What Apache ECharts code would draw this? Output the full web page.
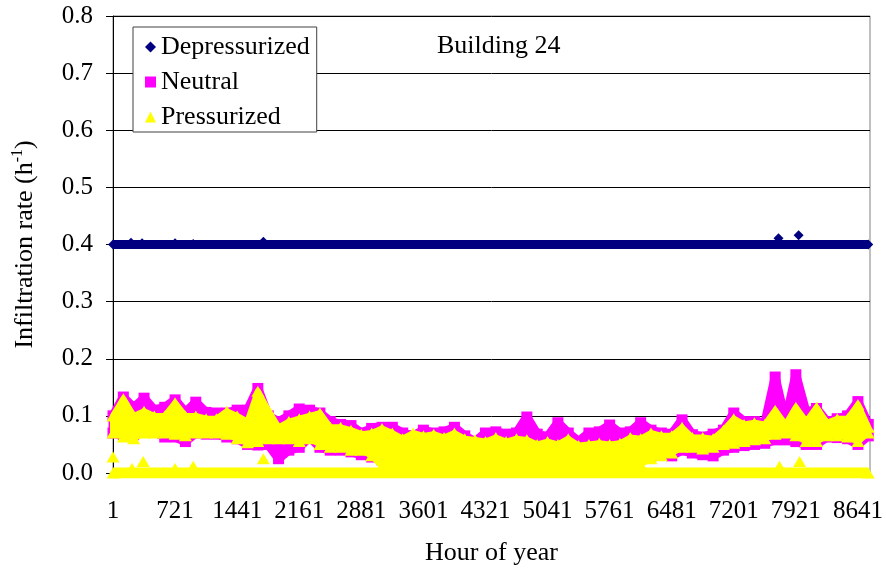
<!DOCTYPE html>
<html>
<head>
<meta charset="utf-8">
<script src="https://cdn.jsdelivr.net/npm/echarts@6/dist/echarts.min.js"></script>
<style>
html, body { margin: 0; padding: 0; background: #fff; }
#chart { width: 886px; height: 573px; }
</style>
</head>
<body>
<div id="chart"></div>
<script>
// hour of year, one sample every 120 h (envelopes)
var hours = [];
for (var k = 0; k <= 73; k++) hours.push(k * 120);

var neutralHi = [0.10, 0.133, 0.114, 0.131, 0.11, 0.115, 0.128, 0.106, 0.124, 0.106, 0.105, 0.105, 0.11, 0.11, 0.148, 0.10, 0.09, 0.10, 0.112,
    0.11, 0.105, 0.09, 0.085, 0.083, 0.07, 0.078, 0.08, 0.08, 0.07, 0.065, 0.075, 0.07, 0.072, 0.08, 0.065, 0.055, 0.07,
    0.072, 0.068, 0.07, 0.098, 0.068, 0.063, 0.088, 0.07, 0.055, 0.07, 0.072, 0.084, 0.07, 0.072, 0.088, 0.075, 0.07, 0.068, 0.093,
    0.067, 0.063, 0.068, 0.075, 0.105, 0.09, 0.09, 0.087, 0.168, 0.09, 0.172, 0.105, 0.113, 0.09, 0.095, 0.1, 0.125, 0.085];
var neutralLo = [0.07, 0.067, 0.067, 0.075, 0.072, 0.063, 0.063, 0.055, 0.07, 0.068, 0.068, 0.063, 0.06, 0.05, 0.049, 0.05, 0.025, 0.04, 0.045,
    0.063, 0.045, 0.04, 0.04, 0.037, 0.032, 0.028, 0.023, 0.035, 0.03, 0.03, 0.025, 0.019, 0.02, 0.019, 0.019, 0.019, 0.02,
    0.02, 0.022, 0.02, 0.018, 0.018, 0.02, 0.018, 0.02, 0.018, 0.02, 0.02, 0.018, 0.018, 0.022, 0.025, 0.03, 0.032, 0.03, 0.04,
    0.035, 0.032, 0.03, 0.04, 0.045, 0.048, 0.05, 0.052, 0.058, 0.058, 0.055, 0.05, 0.05, 0.063, 0.062, 0.06, 0.05, 0.065];
var pressHi = [0.10, 0.13, 0.10, 0.108, 0.10, 0.10, 0.123, 0.10, 0.10, 0.095, 0.095, 0.108, 0.10, 0.09, 0.143, 0.11, 0.08, 0.09, 0.095,
    0.10, 0.105, 0.08, 0.08, 0.075, 0.068, 0.07, 0.078, 0.07, 0.06, 0.07, 0.065, 0.068, 0.062, 0.07, 0.06, 0.058, 0.055,
    0.062, 0.055, 0.06, 0.058, 0.05, 0.055, 0.05, 0.06, 0.048, 0.05, 0.052, 0.05, 0.052, 0.062, 0.06, 0.07, 0.065, 0.065, 0.08,
    0.062, 0.062, 0.06, 0.075, 0.095, 0.085, 0.088, 0.085, 0.11, 0.085, 0.115, 0.09, 0.115, 0.088, 0.095, 0.095, 0.12, 0.08];
var pressLo = [0.07, 0.063, 0.06, 0.07, 0.07, 0.07, 0.068, 0.065, 0.07, 0.07, 0.07, 0.068, 0.06, 0.053, 0.055, 0.06, 0.06, 0.06, 0.055,
    0.06, 0.05, 0.045, 0.045, 0.04, 0.04, 0.03, 0.012, 0.01, 0.01, 0.01, 0.01, 0.01, 0.01, 0.01, 0.01, 0.01, 0.01,
    0.01, 0.01, 0.01, 0.01, 0.01, 0.01, 0.01, 0.01, 0.01, 0.01, 0.01, 0.01, 0.01, 0.01, 0.015, 0.025, 0.03, 0.035, 0.045,
    0.045, 0.042, 0.045, 0.05, 0.052, 0.055, 0.058, 0.06, 0.068, 0.07, 0.065, 0.055, 0.055, 0.065, 0.065, 0.063, 0.055, 0.07];

// flat levels across the year
var depLevelHours = [1, 8760];
var depLevel = [0.4, 0.4];
var pressZeroHours = [1, 8760];
var pressZero = [0, 0];

// isolated points off the flat levels
var depSpikeHours = [209, 337, 720, 930, 1744, 7719, 7952];
var depSpikes = [0.403, 0.402, 0.402, 0.401, 0.405, 0.411, 0.416];
var pressSpikeHours = [0, 220, 350, 720, 930, 1744, 7730, 7963];
var pressSpikes = [0.028, 0.008, 0.02, 0.008, 0.012, 0.025, 0.012, 0.02];

var xLabelStep = 720;
var FONT = '"Liberation Serif", "Times New Roman", serif';
var NAVY = '#000080', MAGENTA = '#ff00ff', YELLOW = '#ffff00';

function pairs(xs, ys) {
    return xs.map(function (x, i) { return [x, ys[i]]; });
}

function band(xs, lo, hi, color, edge) {
    return function (params, api) {
        if (params.dataIndex > 0) return null;
        var pts = [];
        for (var i = 0; i < xs.length; i++) pts.push(api.coord([xs[i], hi[i]]));
        for (var j = xs.length - 1; j >= 0; j--) pts.push(api.coord([xs[j], lo[j]]));
        return {
            type: 'polygon',
            shape: { points: pts },
            style: { fill: color, stroke: color, lineWidth: edge, lineJoin: 'round' }
        };
    };
}

var myChart = echarts.init(document.getElementById('chart'));

var option = {
    animation: false,
    backgroundColor: '#fff',
    grid: {
        left: 113, right: 16, top: 16, bottom: 100,
        show: true, borderColor: '#808080', borderWidth: 1
    },
    legend: {
        orient: 'vertical',
        left: 133, top: 27,
        padding: [7, 7, 2, 12],
        itemGap: 9,
        itemWidth: 11, itemHeight: 11,
        backgroundColor: '#fff',
        borderColor: '#404040', borderWidth: 1,
        selectedMode: false,
        textStyle: { fontFamily: FONT, fontSize: 26, lineHeight: 26, color: '#000' },
        data: [
            { name: 'Depressurized', icon: 'diamond' },
            { name: 'Neutral', icon: 'rect' },
            { name: 'Pressurized', icon: 'triangle' }
        ]
    },
    graphic: [{
        type: 'text', left: 437, top: 33,
        style: { text: 'Building 24', font: '26px ' + FONT, fill: '#000' }
    }],
    xAxis: {
        type: 'value',
        min: 0, max: 8780,
        interval: xLabelStep,
        offset: 7,
        name: 'Hour of year',
        nameLocation: 'middle',
        nameGap: 60,
        nameTextStyle: { fontFamily: FONT, fontSize: 26, color: '#000' },
        axisLine: { lineStyle: { color: '#000', width: 1 } },
        axisTick: { show: true, length: 3, lineStyle: { color: '#000' } },
        minorTick: { show: true, splitNumber: 24, length: 3, lineStyle: { color: '#000' } },
        splitLine: { show: false },
        axisLabel: {
            margin: 19,
            fontFamily: FONT, fontSize: 25, color: '#000',
            showMaxLabel: false,
            formatter: function (v) { return v % xLabelStep === 0 ? String(v + 1) : ''; }
        }
    },
    yAxis: {
        type: 'value',
        min: 0, max: 0.8, interval: 0.1,
        name: '{a|Infiltration rate (h}{s|-1}{a|)}',
        nameLocation: 'middle',
        nameGap: 73,
        nameTextStyle: {
            rich: {
                a: { fontFamily: FONT, fontSize: 26, color: '#000', lineHeight: 30 },
                s: { fontFamily: FONT, fontSize: 16, color: '#000', verticalAlign: 'top', lineHeight: 30 }
            }
        },
        axisLine: { show: true, lineStyle: { color: '#000', width: 1 } },
        axisTick: { show: true, inside: false, length: 7, lineStyle: { color: '#000' } },
        splitLine: { show: true, lineStyle: { color: '#000', width: 1 } },
        axisLabel: {
            margin: 20,
            fontFamily: FONT, fontSize: 25, color: '#000',
            formatter: function (v) { return v.toFixed(1); }
        }
    },
    series: [
        {
            name: 'dep level', type: 'line', z: 3,
            data: pairs(depLevelHours, depLevel),
            symbol: 'diamond', symbolSize: 10, showSymbol: true,
            itemStyle: { color: NAVY, opacity: 1 },
            lineStyle: { color: NAVY, width: 9 }
        },
        {
            name: 'Depressurized', type: 'scatter', z: 4,
            data: pairs(depSpikeHours, depSpikes),
            symbol: 'diamond', symbolSize: 10,
            itemStyle: { color: NAVY, opacity: 1 }
        },
        {
            name: 'neutral band', type: 'custom', z: 5,
            data: pairs(hours, neutralHi),
            renderItem: band(hours, neutralLo, neutralHi, MAGENTA, 9)
        },
        {
            name: 'Neutral', type: 'scatter', z: 6,
            data: pairs(hours, neutralHi).concat(pairs(hours, neutralLo)),
            symbol: 'rect', symbolSize: 11,
            itemStyle: { color: MAGENTA, opacity: 1 }
        },
        {
            name: 'press zero', type: 'line', z: 7,
            data: pairs(pressZeroHours, pressZero),
            symbol: 'triangle', symbolSize: [13, 11], showSymbol: true,
            itemStyle: { color: YELLOW, opacity: 1 },
            lineStyle: { color: YELLOW, width: 11 }
        },
        {
            name: 'press band', type: 'custom', z: 8,
            data: pairs(hours, pressHi),
            renderItem: band(hours, pressLo, pressHi, YELLOW, 6)
        },
        {
            name: 'Pressurized', type: 'scatter', z: 9,
            data: pairs(hours, pressHi).concat(pairs(hours, pressLo), pairs(pressSpikeHours, pressSpikes)),
            symbol: 'triangle', symbolSize: [13, 11],
            itemStyle: { color: YELLOW, opacity: 1 }
        }
    ]
};

myChart.setOption(option);
</script>
</body>
</html>
